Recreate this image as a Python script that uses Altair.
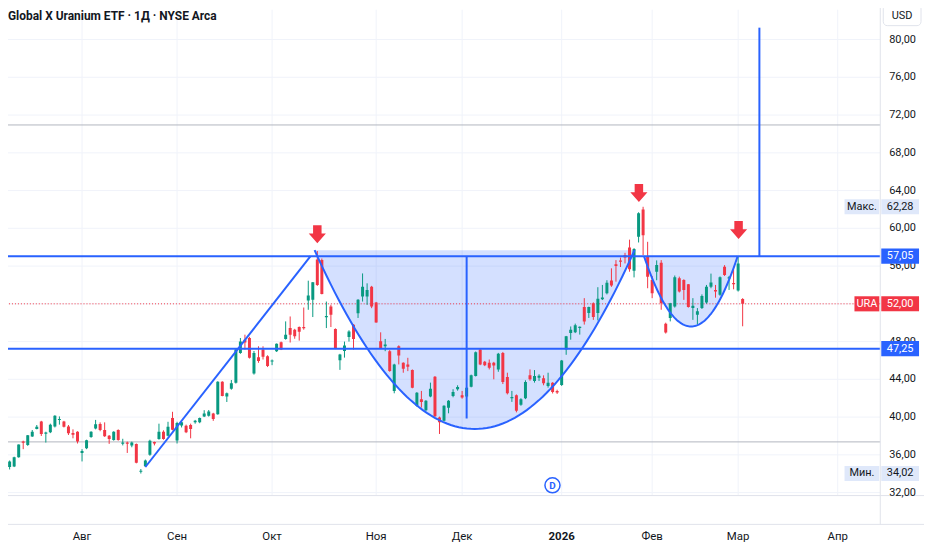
import altair as alt
import pandas as pd

# ---------------- data ----------------
TITLE = "Global X Uranium ETF · 1Д · NYSE Arca"

opens = [34.70, 34.70, 34.77, 35.75, 37.40, 37.05, 37.93, 38.74, 39.54, 38.30,
         38.40, 39.00, 39.70, 39.54, 39.00, 38.30, 38.45, 36.20, 36.70, 37.90,
         38.80, 39.26, 38.63, 38.03, 37.58, 38.63, 37.25, 37.30, 37.00, 37.16,
         34.27, 34.80, 36.00, 37.35, 37.68, 38.45, 38.03, 39.89, 37.51, 39.10,
         39.09, 39.16, 39.44, 39.44, 40.07, 40.14, 40.38, 40.31, 43.75, 42.17,
         43.00, 43.65, 46.80, 48.20, 48.38, 44.63, 46.35, 47.15, 46.45, 45.90,
         46.98, 47.93, 48.28, 49.43, 49.26, 49.54, 49.54, 52.35, 52.42, 56.70,
         56.63, 50.60, 51.72, 49.33, 46.03, 47.00, 48.49, 49.79, 51.00, 52.77,
         52.77, 53.82, 52.14, 48.03, 47.51, 46.98, 42.77, 47.50, 45.75, 45.58,
         44.98, 41.19, 41.89, 40.73, 42.17, 44.28, 39.96, 39.61, 41.00, 42.24,
         42.94, 42.31, 42.17, 43.22, 44.35, 47.15, 45.86, 45.76, 45.76, 45.05,
         46.80, 44.25, 42.00, 42.32, 41.30, 42.00, 44.42, 43.83, 44.18, 44.11,
         43.30, 43.65, 42.77, 43.40, 47.16, 48.91, 48.98, 49.50, 51.65, 51.02,
         52.07, 51.02, 52.49, 53.12, 54.46, 56.18, 56.60, 57.16, 57.97, 55.50,
         59.10, 62.00, 57.00, 54.53, 55.40, 56.35, 49.90, 50.50, 51.72, 54.70,
         54.53, 54.07, 51.55, 50.85, 51.55, 52.14, 53.82, 53.47, 52.95, 55.93,
         54.70, 54.20, 53.40, 52.50]
highs = [35.10, 35.40, 35.80, 37.10, 37.50, 38.10, 38.63, 39.16, 39.60, 38.45,
         39.30, 40.20, 40.07, 39.60, 39.16, 38.70, 38.50, 36.60, 37.60, 38.50,
         39.70, 39.44, 39.44, 38.10, 38.50, 38.70, 37.70, 37.40, 37.40, 37.20,
         34.50, 35.50, 37.60, 37.40, 39.30, 38.60, 39.50, 40.56, 39.50, 39.60,
         39.20, 39.30, 39.70, 39.95, 40.73, 40.75, 40.45, 43.80, 43.80, 42.60,
         43.93, 47.20, 48.38, 48.73, 48.50, 47.00, 47.50, 47.50, 46.55, 46.10,
         47.80, 48.00, 50.14, 50.66, 49.35, 49.60, 51.61, 54.45, 54.30, 57.60,
         56.80, 52.24, 51.90, 49.40, 46.70, 48.00, 49.20, 49.85, 52.50, 55.22,
         54.17, 53.90, 52.20, 48.98, 48.28, 47.10, 45.65, 47.60, 45.80, 46.28,
         45.05, 42.65, 42.77, 41.80, 43.65, 44.35, 40.05, 41.25, 41.80, 42.95,
         43.37, 42.77, 43.20, 44.50, 46.95, 47.25, 45.95, 46.10, 45.85, 46.80,
         46.90, 44.70, 42.77, 42.40, 42.00, 43.90, 45.05, 44.98, 44.53, 44.42,
         44.70, 43.70, 42.90, 46.05, 48.60, 49.60, 49.90, 49.60, 52.60, 51.70,
         52.15, 53.76, 54.00, 54.50, 55.76, 56.63, 56.90, 57.40, 58.80, 57.90,
         61.70, 62.28, 58.57, 54.95, 56.60, 56.63, 50.00, 52.10, 55.00, 54.88,
         54.60, 54.10, 52.60, 51.55, 53.00, 54.00, 55.20, 54.00, 54.90, 56.10,
         54.95, 55.93, 57.00, 52.60]
lows = [34.55, 34.45, 34.70, 35.70, 36.60, 36.95, 37.90, 38.70, 38.00, 37.30,
        38.30, 38.90, 39.20, 38.90, 38.10, 37.75, 37.20, 35.30, 36.60, 37.80,
        38.70, 38.50, 37.90, 37.16, 37.50, 37.50, 37.00, 36.20, 36.80, 35.10,
        34.02, 34.70, 35.90, 37.00, 37.60, 37.60, 37.95, 38.60, 37.20, 38.90,
        38.30, 37.75, 39.30, 39.35, 40.00, 40.05, 39.60, 40.25, 42.20, 41.60,
        42.90, 43.55, 46.70, 47.15, 46.20, 44.50, 45.75, 46.10, 45.30, 45.50,
        46.90, 47.10, 48.20, 47.90, 48.30, 48.10, 49.26, 51.37, 50.60, 53.90,
        53.00, 49.43, 49.54, 47.20, 45.00, 46.30, 48.00, 47.15, 50.50, 52.24,
        51.89, 51.54, 50.00, 47.30, 46.98, 44.80, 42.52, 45.58, 44.70, 44.87,
        43.05, 41.10, 41.01, 40.65, 42.10, 40.00, 38.21, 39.55, 40.40, 42.10,
        42.80, 41.95, 42.05, 43.15, 44.30, 45.50, 45.40, 45.05, 44.00, 44.80,
        43.50, 42.40, 41.61, 40.50, 41.20, 41.90, 43.85, 43.65, 43.83, 43.37,
        43.12, 42.50, 42.45, 43.30, 46.60, 48.20, 48.90, 48.74, 49.80, 50.50,
        50.30, 50.24, 52.40, 53.00, 53.80, 54.35, 55.90, 56.28, 55.40, 54.80,
        58.50, 57.16, 53.65, 52.60, 54.50, 51.37, 48.85, 50.14, 51.60, 53.20,
        52.42, 51.60, 50.30, 49.80, 51.45, 52.00, 53.65, 52.65, 52.85, 54.95,
        53.47, 53.54, 53.30, 49.62]
closes = [35.05, 35.30, 35.75, 37.09, 37.30, 38.08, 38.45, 38.98, 38.20, 38.36,
          39.20, 40.14, 39.80, 38.98, 38.28, 38.14, 37.40, 36.40, 37.54, 38.45,
          39.23, 38.63, 37.96, 37.68, 38.45, 37.58, 37.30, 37.22, 37.30, 35.16,
          34.32, 35.40, 37.50, 37.20, 38.45, 37.68, 38.98, 38.66, 39.37, 39.44,
          38.38, 38.73, 39.60, 39.89, 40.38, 40.59, 39.79, 43.75, 42.24, 42.52,
          43.58, 47.15, 48.00, 47.90, 46.28, 46.80, 45.93, 46.38, 45.40, 46.00,
          47.78, 47.15, 48.72, 48.73, 48.56, 49.05, 49.44, 52.87, 54.28, 54.00,
          53.05, 50.70, 50.84, 47.33, 46.63, 47.58, 49.08, 48.28, 52.42, 53.82,
          53.47, 51.72, 50.03, 47.33, 47.68, 44.87, 45.58, 46.52, 45.12, 45.33,
          43.12, 42.59, 41.61, 41.72, 43.01, 40.08, 39.44, 41.19, 41.72, 42.66,
          43.19, 42.07, 43.12, 44.42, 46.87, 45.58, 45.50, 45.23, 45.47, 46.70,
          43.72, 42.53, 42.14, 40.67, 41.90, 43.72, 44.00, 44.35, 44.38, 43.58,
          43.65, 42.67, 42.60, 46.00, 48.56, 49.26, 49.72, 49.56, 50.14, 51.65,
          50.60, 52.53, 52.67, 54.24, 53.93, 56.00, 56.46, 56.90, 55.65, 57.80,
          61.60, 59.27, 54.88, 53.12, 56.10, 52.07, 48.95, 52.07, 54.81, 53.30,
          53.47, 51.65, 51.79, 51.20, 52.84, 53.82, 54.25, 53.30, 54.81, 55.05,
          54.81, 54.10, 56.28, 52.00]

month_idx = [17, 38, 59, 82, 101, 123, 143, 162, 184]
month_lbl = ["Авг", "Сен", "Окт", "Ноя", "Дек", "2026", "Фев", "Мар", "Апр"]
month_bold = [False, False, False, False, False, True, False, False, False]
price_ticks = [32, 36, 40, 44, 48, 52, 56, 60, 64, 68, 72, 76, 80]
label_ticks = [32, 36, 40, 44, 48, 56, 60, 64, 68, 72, 76, 80]
price_lbl = ["32,00", "36,00", "40,00", "44,00", "48,00", "56,00",
             "60,00", "64,00", "68,00", "72,00", "76,00", "80,00"]

level_prices = [57.05, 47.25]          # blue horizontal levels
gray_prices = [70.95, 37.37]           # gray horizontal levels
last_price = 52.00

diag_i = [31.0, 67.5]
diag_p = [34.71, 57.05]

vert_i = [102.0, 166.7]
vert_p1 = [57.05, 57.05]
vert_p2 = [39.85, 81.26]

cup_big = [(68.4, 57.68), (103.8, 38.74), (139.1, 57.68)]   # start, bottom, end
cup_small = [(141.2, 57.05), (151.6, 49.60), (161.9, 57.05)]

arrow_i = [69.0, 140.07, 162.1]
arrow_p = [59.37, 63.74, 59.82]

div_i = [120.97]
div_p = [32.77]

tag_price = [57.05, 47.25, 52.00, 62.28, 34.02]
tag_text = ["57,05", "47,25", "52,00", "62,28", "34,02"]
tag_kind = ["level", "level", "last", "range", "range"]
name_price = [62.28, 34.02]
name_text = ["Макс.", "Мин."]
sym_price = [52.00]
sym_text = ["URA"]

# ---------------- styling ----------------
BLUE = "#2962ff"
RED = "#f23645"
GREEN = "#089981"
DARK = "#131722"
PALE = "#dfe8fa"
GRID = "#f0f3fa"
SEP = "#e0e3eb"
FONT = "Roboto"

W, H = 878, 489
xsc = alt.Scale(domain=[1.7365, 192.32], nice=False, zero=False)
ysc = alt.Scale(domain=[31.684, 83.158], nice=False, zero=False)


def X(f):
    return alt.X(f, scale=xsc, axis=None)


def Y(f):
    return alt.Y(f, scale=ysc, axis=None)


def bezier(pts, n=80):
    (x0, y0), (xv, yv), (x2, y2) = pts
    cx = 2 * xv - (x0 + x2) / 2
    cy = 2 * yv - (y0 + y2) / 2
    rows = []
    for k in range(n + 1):
        t = k / n
        a, b, c = (1 - t) ** 2, 2 * t * (1 - t), t ** 2
        rows.append({"i": a * x0 + b * cx + c * x2,
                     "p": a * y0 + b * cy + c * y2,
                     "top": y0})
    return pd.DataFrame(rows)


candles = pd.DataFrame({"i": list(range(len(opens))), "o": opens, "h": highs,
                        "l": lows, "c": closes})
candles["dir"] = ["up" if c >= o else "down" for o, c in zip(opens, closes)]
col = alt.Color("dir:N", scale=alt.Scale(domain=["up", "down"], range=[GREEN, RED]), legend=None)

# ---- grid and axis labels (through the scales) ----
months = pd.DataFrame({"i": month_idx, "t": month_lbl, "b": month_bold})
gridp = pd.DataFrame({"p": price_ticks})
prices = pd.DataFrame({"p": label_ticks, "t": price_lbl})

vgrid = alt.Chart(months).transform_filter("datum.i < 192").mark_rule(
    color=GRID, strokeWidth=1).encode(x=X("i:Q"), y=alt.value(0), y2=alt.value(489))
hgrid = alt.Chart(gridp).mark_rule(color=GRID, strokeWidth=1).encode(y=Y("p:Q"))
xlab = alt.Chart(months).transform_filter("!datum.b").mark_text(
    fontSize=11.5, font=FONT, color=DARK, baseline="middle", align="center").encode(
    x=X("i:Q"), y=alt.value(531), text="t:N")
xlab_b = alt.Chart(months).transform_filter("datum.b").mark_text(
    fontSize=11.5, font=FONT, color=DARK, fontWeight="bold", baseline="middle", align="center").encode(
    x=X("i:Q"), y=alt.value(531), text="t:N")
ylab = alt.Chart(prices).mark_text(fontSize=11, font=FONT, color=DARK, baseline="middle",
                                   align="left").encode(x=alt.value(887), y=Y("p:Q"), text="t:N")
ydomain = alt.Chart(pd.DataFrame({"k": [0]})).mark_rule(color=SEP, strokeWidth=1).encode(
    x=alt.value(878), y=alt.value(-8), y2=alt.value(518))

wicks = alt.Chart(candles).mark_rule(strokeWidth=1, clip=True).encode(
    x=X("i:Q"), y=Y("l:Q"), y2="h:Q", color=col)

bodies = alt.Chart(candles).transform_calculate(
    top="max(datum.o, datum.c)",
    bot="max(datum.o, datum.c) - max(abs(datum.o - datum.c), 0.12)",
).mark_bar(size=3, clip=True).encode(x=X("i:Q"), y=Y("top:Q"), y2="bot:Q", color=col)

big = bezier(cup_big)
small = bezier(cup_small)
fill_big = alt.Chart(big).mark_area(color=BLUE, opacity=0.2).encode(x=X("i:Q"), y=Y("p:Q"), y2="top:Q")
fill_small = alt.Chart(small).mark_area(color=BLUE, opacity=0.2).encode(x=X("i:Q"), y=Y("p:Q"), y2="top:Q")
line_big = alt.Chart(big).mark_line(color=BLUE, strokeWidth=2).encode(x=X("i:Q"), y=Y("p:Q"), order="i:Q")
line_small = alt.Chart(small).mark_line(color=BLUE, strokeWidth=2).encode(x=X("i:Q"), y=Y("p:Q"), order="i:Q")

gray = alt.Chart(pd.DataFrame({"p": gray_prices})).mark_rule(color="#b2b5be", strokeWidth=1).encode(y=Y("p:Q"))
lastline = alt.Chart(pd.DataFrame({"p": [last_price]})).mark_rule(
    color=RED, strokeWidth=1, strokeDash=[1, 2]).encode(y=Y("p:Q"))
levels = alt.Chart(pd.DataFrame({"p": level_prices})).mark_rule(color=BLUE, strokeWidth=2).encode(y=Y("p:Q"))
diag = alt.Chart(pd.DataFrame({"i": diag_i, "p": diag_p})).mark_line(color=BLUE, strokeWidth=2).encode(
    x=X("i:Q"), y=Y("p:Q"))
verts = alt.Chart(pd.DataFrame({"i": vert_i, "p1": vert_p1, "p2": vert_p2})).mark_rule(
    color=BLUE, strokeWidth=2).encode(x=X("i:Q"), y=Y("p1:Q"), y2="p2:Q")

ARROW = "M-0.47,-1 L0.47,-1 L0.47,-0.08 L0.95,-0.08 L0,1 L-0.95,-0.08 L-0.47,-0.08 Z"
arrows = alt.Chart(pd.DataFrame({"i": arrow_i, "p": arrow_p})).mark_point(
    shape=ARROW, size=330, filled=True, color=RED, opacity=1, strokeWidth=0).encode(x=X("i:Q"), y=Y("p:Q"))

divdf = pd.DataFrame({"i": div_i, "p": div_p, "t": ["D"]})
div_c = alt.Chart(divdf).mark_point(shape="circle", size=230, filled=True, fill="white",
                                    stroke=BLUE, strokeWidth=1.5, opacity=1).encode(x=X("i:Q"), y=Y("p:Q"))
div_t = alt.Chart(divdf).mark_text(color=BLUE, fontSize=10, fontWeight="bold", font=FONT,
                                   baseline="middle", align="center", dy=0.5).encode(
    x=X("i:Q"), y=Y("p:Q"), text="t:N")

kind_scale = alt.Scale(domain=["level", "last", "range"], range=[BLUE, RED, PALE])
kind_text = alt.Scale(domain=["level", "last", "range"], range=["white", "white", DARK])
tags = pd.DataFrame({"p": tag_price, "t": tag_text, "k": tag_kind})
tag_box = alt.Chart(tags).transform_calculate(lo="datum.p - 0.8", hi="datum.p + 0.8").mark_rect().encode(
    x=alt.value(879), x2=alt.value(917), y=Y("lo:Q"), y2="hi:Q",
    fill=alt.Fill("k:N", scale=kind_scale, legend=None))
tag_txt = alt.Chart(tags).mark_text(fontSize=11, font=FONT, baseline="middle", align="center").encode(
    x=alt.value(898), y=Y("p:Q"), text="t:N",
    color=alt.Color("k:N", scale=kind_text, legend=None))

names = pd.DataFrame({"p": name_price, "t": name_text})
name_box = alt.Chart(names).transform_calculate(lo="datum.p - 0.8", hi="datum.p + 0.8").mark_rect(
    color=PALE).encode(x=alt.value(842), x2=alt.value(877), y=Y("lo:Q"), y2="hi:Q")
name_txt = alt.Chart(names).mark_text(fontSize=11, font=FONT, color=DARK, baseline="middle",
                                      align="center").encode(x=alt.value(859.5), y=Y("p:Q"), text="t:N")
syms = pd.DataFrame({"p": sym_price, "t": sym_text})
sym_box = alt.Chart(syms).transform_calculate(lo="datum.p - 0.8", hi="datum.p + 0.8").mark_rect(
    color=RED).encode(x=alt.value(852), x2=alt.value(877), y=Y("lo:Q"), y2="hi:Q")
sym_txt = alt.Chart(syms).mark_text(fontSize=11, font=FONT, color="white", baseline="middle",
                                    align="center").encode(x=alt.value(864.5), y=Y("p:Q"), text="t:N")

one = pd.DataFrame({"t": [TITLE], "u": ["USD"]})
title = alt.Chart(one).mark_text(fontSize=12, fontWeight="bold", font=FONT, color=DARK,
                                 align="left", baseline="middle").encode(
    x=alt.value(0), y=alt.value(6), text="t:N")
usd_box = alt.Chart(one).mark_rect(fill="white", stroke=SEP, strokeWidth=1, cornerRadius=4).encode(
    x=alt.value(881), x2=alt.value(919), y=alt.value(-5), y2=alt.value(16))
usd_txt = alt.Chart(one).mark_text(fontSize=11, font=FONT, color=DARK, align="center",
                                   baseline="middle").encode(x=alt.value(900), y=alt.value(6), text="u:N")

seps = alt.Chart(pd.DataFrame({"k": [0]})).mark_rule(color=SEP, strokeWidth=1).encode(
    y=alt.value(489), x=alt.value(0), x2=alt.value(922))
seps2 = alt.Chart(pd.DataFrame({"k": [0]})).mark_rule(color=SEP, strokeWidth=1).encode(
    y=alt.value(518), x=alt.value(0), x2=alt.value(922))

chart = alt.layer(
    vgrid, hgrid, fill_big, fill_small, gray, lastline, wicks, bodies,
    levels, diag, verts, line_big, line_small, arrows, div_c, div_t,
    seps, seps2, ydomain, xlab, xlab_b, ylab,
    tag_box, tag_txt, name_box, name_txt, sym_box, sym_txt,
    title, usd_box, usd_txt,
).resolve_scale(color="independent", fill="independent").properties(
    width=W, height=H, background="white",
    autosize=alt.AutoSizeParams(type="none"),
    padding={"left": 0, "top": 0, "right": 44, "bottom": 48},
).configure_view(strokeWidth=0)

chart.save("out.html", embed_options={"renderer": "svg", "actions": False})
